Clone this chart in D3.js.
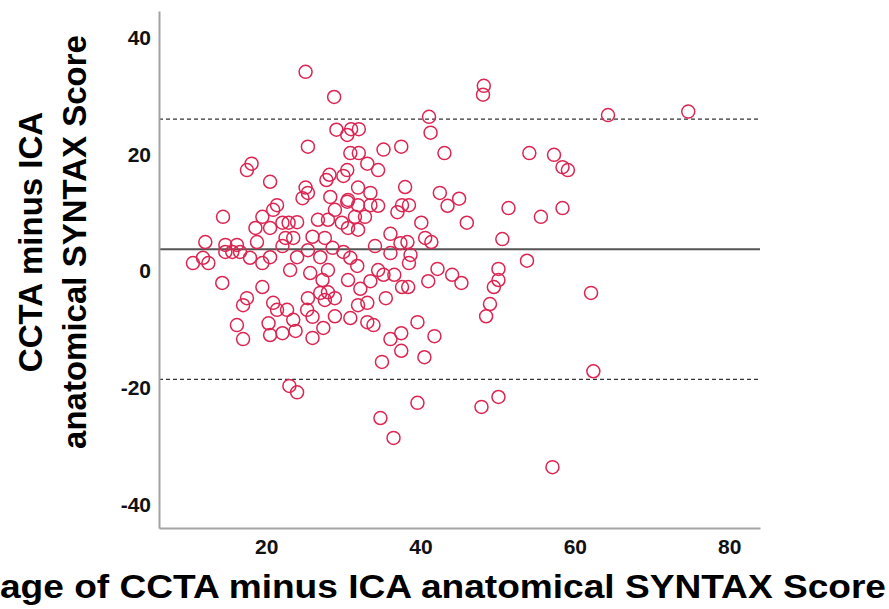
<!DOCTYPE html>
<html><head><meta charset="utf-8">
<script src="https://cdn.jsdelivr.net/npm/d3@7"></script>
<style>body{margin:0;background:#fff;} svg{display:block;}</style>
</head><body>
<svg id="chart" width="889" height="609"></svg>
<script>
// Average of the two scores (x) and difference (y)
const avgValues = [
25.1,28.8,29.1,30.5,31.0,32.0,25.4,30.9,32.0,35.2,37.5,17.5,18.1,20.5,30.5,33.1,34.5,30.0,27.8,28.2,
48.2,48.1,41.1,41.3,64.3,74.7,43.1,54.1,57.3,58.4,59.1,
25.1,25.4,24.7,28.3,30.6,21.4,20.9,14.4,19.5,18.6,20.5,22.1,22.9,24.0,26.7,28.0,28.9,29.8,12.1,
14.7,16.2,18.8,22.5,23.5,26.0,27.6,31.9,38.0,33.5,42.5,45.0,43.5,37.6,38.5,37.0,34.5,33.5,31.9,30.5,
31.5,32.8,40.1,46.0,51.4,55.6,58.4,36.1,37.4,38.3,40.6,41.4,50.6,30.6,31.9,
14.7,15.6,16.6,10.5,11.8,12.5,17.9,20.5,19.5,22.1,24.0,23.1,25.4,27.0,25.7,28.0,28.6,30.0,34.1,36.1,
38.7,38.5,53.8,31.8,30.9,34.5,35.2,36.6,42.2,44.1,45.3,50.1,50.1,49.5,41.0,30.6,33.5,14.3,19.5,27.3,
32.2,37.6,38.4,35.5,31.9,33.1,17.5,17.0,20.9,21.4,22.7,25.4,25.3,26.0,27.0,27.6,28.0,28.9,28.9,16.2,
17.0,20.3,20.5,22.1,23.5,23.8,26.0,27.4,30.9,33.1,33.9,39.6,37.5,36.1,41.8,37.5,40.5,35.0,49.0,48.5,62.1,
23.0,24.0,34.8,36.5,39.6,47.9,50.1,57.1,62.4
];
const diffValues = [
34.1,29.8,24.2,23.3,24.3,24.3,21.3,20.2,20.2,20.8,21.3,17.3,18.4,15.3,17.3,18.4,17.3,16.3,15.6,16.5,
31.7,30.2,26.4,23.7,26.7,27.3,20.2,20.2,19.9,17.8,17.3,
14.3,13.4,12.5,12.7,12.2,11.3,10.5,9.3,9.3,7.4,7.4,8.3,8.3,8.4,8.8,8.8,10.5,8.3,5.0,
4.5,4.5,5.0,5.7,5.7,5.9,5.7,14.3,14.4,13.4,13.4,12.4,11.2,11.3,11.3,10.1,11.2,11.3,11.3,11.9,
9.3,9.3,8.3,8.3,10.8,9.3,10.8,6.4,4.8,5.0,5.7,5.0,5.5,7.4,7.1,
3.3,3.3,3.3,1.4,2.3,1.4,2.3,2.4,1.4,4.3,2.4,0.2,3.6,2.4,-0.3,0.2,4.0,3.3,4.3,3.1,
2.8,1.4,1.8,0.9,2.3,0.2,-0.6,-0.6,0.4,-0.6,-2.0,0.4,-1.5,-2.7,-1.7,-1.5,-1.7,-2.0,-2.7,-1.5,
-3.0,-2.7,-2.7,-4.6,-5.8,-5.4,-4.6,-5.8,-5.4,-6.6,-6.6,-4.6,-6.6,-7.8,-3.7,-4.9,-3.6,-4.6,-7.7,-9.2,
-11.6,-8.9,-10.9,-10.6,-8.3,-10.2,-11.4,-9.7,-8.0,-8.7,-9.2,-8.7,-10.6,-11.6,-11.1,-13.6,-14.7,-15.5,-5.6,-7.7,-3.7,
-19.6,-20.7,-25.1,-28.5,-22.5,-23.2,-21.5,-33.5,-17.1
];
const meanDiff = 3.76;
const upperLoA = 26.0;
const lowerLoA = -18.5;
const xTicks = [20, 40, 60, 80];
const yTicks = [-40, -20, 0, 20, 40];
const xTitle = "Average of CCTA minus ICA anatomical SYNTAX Score";
const xTitleHidden = "Aver";
const yTitleLines = ["CCTA minus ICA", "anatomical SYNTAX Score"];

(function () {
const points = avgValues.map((a, i) => ({x: a, y: diffValues[i]}));

const svg = d3.select("#chart");
const pLeft = 159, pRight = 760, pTop = 11, pBottom = 528;
const x = d3.scaleLinear().domain([6.1, 84]).range([pLeft, pRight]);
const y = d3.scaleLinear().domain([-43.9, 44.5]).range([pBottom, pTop]);

const font = "'Liberation Sans', Arial, sans-serif";
const fmt = d => String(d);

// reference lines
svg.append("line").attr("x1", pLeft).attr("x2", pRight)
  .attr("y1", y(meanDiff)).attr("y2", y(meanDiff))
  .attr("stroke", "#555").attr("stroke-width", 2);
[upperLoA, lowerLoA].forEach(v => {
  svg.append("line").attr("x1", pLeft).attr("x2", pRight)
    .attr("y1", y(v)).attr("y2", y(v))
    .attr("stroke", "#333").attr("stroke-width", 1.3)
    .attr("stroke-dasharray", "4,3");
});

// points
svg.append("g").selectAll("circle").data(points).join("circle")
  .attr("cx", d => x(d.x)).attr("cy", d => y(d.y)).attr("r", 6.5)
  .attr("fill", "none").attr("stroke", "#dc2551").attr("stroke-width", 1.5);

// axes
const xAxis = svg.append("g").attr("transform", `translate(0,${pBottom})`)
  .call(d3.axisBottom(x).tickValues(xTicks).tickFormat(fmt).tickSize(0).tickSizeOuter(0).tickPadding(11.5));
const yAxis = svg.append("g").attr("transform", `translate(${pLeft},0)`)
  .call(d3.axisLeft(y).tickValues(yTicks).tickFormat(fmt).tickSize(0).tickSizeOuter(0).tickPadding(8));
[xAxis, yAxis].forEach(g => {
  g.select(".domain").attr("stroke", "#a3a3a3").attr("stroke-width", 2);
  g.selectAll("text").attr("font-family", font).attr("font-weight", "bold")
    .attr("font-size", 21).attr("fill", "#111");
});

// y title
const yt = svg.append("g").attr("transform", "translate(0,242) rotate(-90)");
yTitleLines.forEach((t, i) => {
  yt.append("text").attr("x", 0).attr("y", i === 0 ? 42 : 86)
    .attr("text-anchor", "middle").attr("font-family", font)
    .attr("font-weight", "bold").attr("font-size", 33).attr("fill", "#000").text(t);
});

// x title (clipped on both sides in the reference)
const xt = svg.append("text").attr("y", 598).attr("font-family", font)
  .attr("font-weight", "bold").attr("font-size", 33).attr("fill", "#000").text(xTitle);
const probe = svg.append("text").attr("font-family", font).attr("font-weight", "bold")
  .attr("font-size", 33).text(xTitleHidden);
const wHidden = probe.node().getComputedTextLength();
probe.remove();
const wFull = xt.node().getComputedTextLength();
const visibleEnd = 886;
const s = visibleEnd / (wFull - wHidden);
xt.attr("x", -wHidden * s).attr("textLength", wFull * s).attr("lengthAdjust", "spacingAndGlyphs");
})();
</script>
</body></html>
